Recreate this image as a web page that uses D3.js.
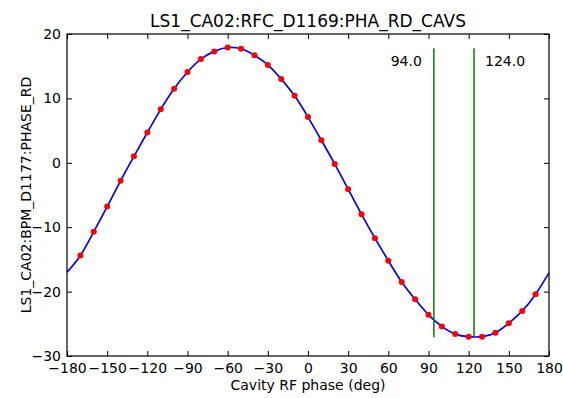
<!DOCTYPE html>
<html>
<head>
<meta charset="utf-8">
<script src="https://cdn.jsdelivr.net/npm/d3@7"></script>
<style>
  body { margin: 0; background: #fff; }
  svg { font-family: "DejaVu Sans", sans-serif; }
</style>
</head>
<body>
<div id="chart"></div>
<script>
// measured points (red dots)
const phases = [-170, -160, -150, -140, -130, -120, -110, -100, -90, -80, -70, -60, -50, -40, -30, -20, -10,
  0, 10, 20, 30, 40, 50, 60, 70, 80, 90, 100, 110, 120, 130, 140, 150, 160, 170];
const readings = [-14.4, -10.7, -6.8, -2.8, 1.0, 4.7, 8.3, 11.5, 14.1, 16.1, 17.3, 17.9, 17.7, 16.7, 15.2, 13.0, 10.4,
  7.1, 3.5, -0.2, -4.1, -8.0, -11.7, -15.2, -18.5, -21.2, -23.6, -25.4, -26.6, -27.0, -27.0, -26.4, -24.9, -23.0, -20.4];

// fitted curve (blue)
const fitPhases = [-180, -170, -160, -150, -140, -130, -120, -110, -100, -90, -80, -70, -60, -50, -40, -30, -20, -10,
  0, 10, 20, 30, 40, 50, 60, 70, 80, 90, 100, 110, 120, 130, 140, 150, 160, 170, 180];
const fitValues = [-17.0, -14.4, -10.7, -6.8, -2.8, 1.0, 4.7, 8.3, 11.5, 14.1, 16.1, 17.3, 17.9, 17.7, 16.7, 15.2, 13.0, 10.4,
  7.1, 3.5, -0.2, -4.1, -8.0, -11.7, -15.2, -18.5, -21.2, -23.6, -25.4, -26.6, -27.0, -27.0, -26.4, -24.9, -23.0, -20.4, -17.1];

// green markers
const markerPhases = [94.0, 124.0];
const markerRange = [-27.1, 17.8];

const xTicks = [-180, -150, -120, -90, -60, -30, 0, 30, 60, 90, 120, 150, 180];
const yTicks = [-30, -20, -10, 0, 10, 20];

const title = 'LS1_CA02:RFC_D1169:PHA_RD_CAVS';
const xLabel = 'Cavity RF phase (deg)';
const yLabel = 'LS1_CA02:BPM_D1177:PHASE_RD';

const width = 563, height = 398;
const margin = {top: 34, right: 14, bottom: 42, left: 67};
const innerWidth = width - margin.left - margin.right;
const innerHeight = height - margin.top - margin.bottom;

const svg = d3.select('#chart').append('svg')
  .attr('width', width).attr('height', height);
svg.append('rect').attr('width', width).attr('height', height).attr('fill', '#fff');

const g = svg.append('g').attr('transform', `translate(${margin.left},${margin.top})`);

const x = d3.scaleLinear().domain([-180, 180]).range([0, innerWidth]);
const y = d3.scaleLinear().domain([-30, 20]).range([innerHeight, 0]);

const styleAxis = sel => {
  sel.select('.domain').remove();
  sel.selectAll('line').attr('stroke', '#000').attr('stroke-width', 1);
  sel.selectAll('text').attr('font-size', 14).attr('fill', '#000')
    .attr('font-family', '"DejaVu Sans", sans-serif');
};
const ticksOnly = sel => {
  styleAxis(sel);
  sel.selectAll('text').remove();
};

g.append('g').attr('transform', `translate(0,${innerHeight})`)
  .call(d3.axisBottom(x).tickValues(xTicks).tickSizeInner(-5).tickSizeOuter(0).tickPadding(7))
  .call(styleAxis);
g.append('g')
  .call(d3.axisTop(x).tickValues(xTicks).tickSizeInner(-5).tickSizeOuter(0))
  .call(ticksOnly);
g.append('g')
  .call(d3.axisLeft(y).tickValues(yTicks).tickSizeInner(-5).tickSizeOuter(0).tickPadding(6))
  .call(styleAxis);
g.append('g').attr('transform', `translate(${innerWidth},0)`)
  .call(d3.axisRight(y).tickValues(yTicks).tickSizeInner(-5).tickSizeOuter(0))
  .call(ticksOnly);

const plot = g.append('g');

const line = d3.line()
  .x((d, i) => x(fitPhases[i]))
  .y(d => y(d))
  .curve(d3.curveNatural);
plot.append('path').datum(fitValues)
  .attr('fill', 'none').attr('stroke', '#0000ff').attr('stroke-width', 1.7)
  .attr('d', line);

plot.selectAll('circle').data(readings).join('circle')
  .attr('cx', (d, i) => x(phases[i]))
  .attr('cy', d => y(d))
  .attr('r', 3)
  .attr('fill', '#ff0000');

plot.selectAll('.marker').data(markerPhases).join('line')
  .attr('class', 'marker')
  .attr('x1', d => x(d)).attr('x2', d => x(d))
  .attr('y1', y(markerRange[0])).attr('y2', y(markerRange[1]))
  .attr('stroke', '#008000').attr('stroke-width', 1.5);

plot.selectAll('.mlabel').data(markerPhases).join('text')
  .attr('class', 'mlabel')
  .attr('x', (d, i) => i === 0 ? x(d) - 12 : x(d) + 11)
  .attr('y', y(markerRange[1]) + 18)
  .attr('text-anchor', (d, i) => i === 0 ? 'end' : 'start')
  .attr('font-size', 14)
  .text(d => d.toFixed(1));

// frame
g.append('rect').attr('width', innerWidth).attr('height', innerHeight)
  .attr('fill', 'none').attr('stroke', '#000').attr('stroke-width', 1.2);

svg.append('text').attr('x', margin.left + innerWidth / 2).attr('y', 27)
  .attr('text-anchor', 'middle').attr('font-size', 17).text(title);
svg.append('text').attr('x', margin.left + innerWidth / 2).attr('y', 390)
  .attr('text-anchor', 'middle').attr('font-size', 14).text(xLabel);
svg.append('text').attr('transform', 'rotate(-90)')
  .attr('x', -(margin.top + innerHeight / 2)).attr('y', 31)
  .attr('text-anchor', 'middle').attr('font-size', 14).text(yLabel);
</script>
</body>
</html>
